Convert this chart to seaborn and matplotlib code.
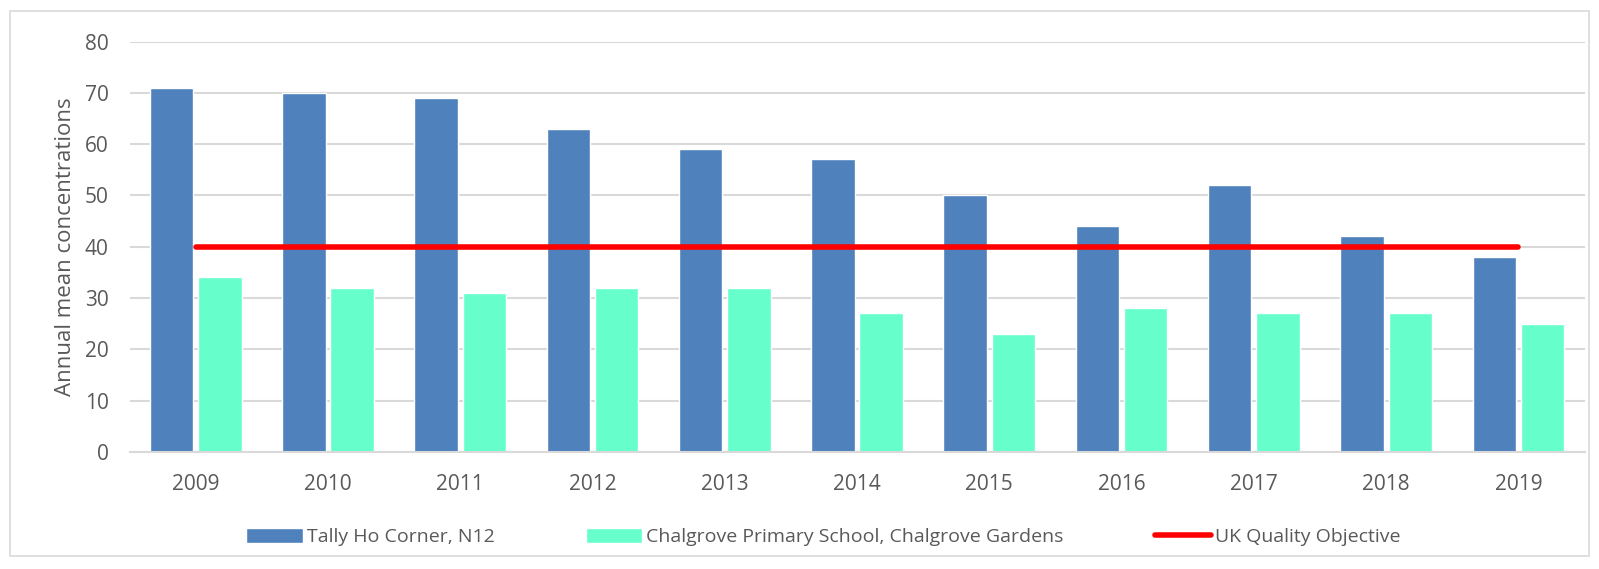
import numpy as np
import pandas as pd
import matplotlib
matplotlib.use("Agg")
import matplotlib.pyplot as plt
from matplotlib.patches import Patch, Rectangle
from matplotlib.lines import Line2D
import seaborn as sns

years = ["2009", "2010", "2011", "2012", "2013", "2014", "2015", "2016", "2017", "2018", "2019"]
tally_ho = [71, 70, 69, 63, 59, 57, 50, 44, 52, 42, 38]
chalgrove = [34, 32, 31, 32, 32, 27, 23, 28, 27, 27, 25]
objective = [40] * len(years)

site_names = ["Tally Ho Corner, N12", "Chalgrove Primary School, Chalgrove Gardens"]
objective_name = "UK Quality Objective"
colors = ["#4f81bd", "#66ffcc"]
line_color = "#ff0000"
text_color = "#595959"

df = pd.DataFrame({
    "year": years * 2,
    "value": tally_ho + chalgrove,
    "site": [site_names[0]] * len(years) + [site_names[1]] * len(years),
})

sns.set_theme(style="white")
plt.rcParams["font.family"] = ["Open Sans", "DejaVu Sans"]

fig = plt.figure(figsize=(15.99, 5.69), dpi=100)
ax = fig.add_axes([0.081, 0.206, 0.910, 0.721])

sns.barplot(data=df, x="year", y="value", hue="site", palette=colors,
            order=years, hue_order=site_names, width=0.73, gap=0.1,
            saturation=1, errorbar=None, legend=False, ax=ax)

sns.lineplot(x=np.arange(len(years)), y=objective, color=line_color,
             linewidth=4, solid_capstyle="round", ax=ax, legend=False)

ax.set_ylim(0, 80)
ax.set_yticks(range(0, 81, 10))
ax.set_xlim(-0.5, len(years) - 0.5)
ax.yaxis.grid(True, color="#d9d9d9", linewidth=1.5)
ax.set_axisbelow(True)
for side in ["top", "right", "left"]:
    ax.spines[side].set_visible(False)
ax.spines["bottom"].set_color("#d9d9d9")
ax.spines["bottom"].set_linewidth(1.5)
ax.tick_params(axis="both", length=0, labelsize=15, colors=text_color)
ax.tick_params(axis="y", pad=15)
ax.tick_params(axis="x", pad=16)
ax.set_xlabel("")
ax.set_ylabel("Annual mean concentrations", fontsize=16, color=text_color, labelpad=6)

handles = [
    Patch(facecolor=colors[0], label=site_names[0]),
    Patch(facecolor=colors[1], label=site_names[1]),
    Line2D([0], [0], color=line_color, linewidth=4, solid_capstyle="round", label=objective_name),
]
fig.legend(handles=handles, loc="center", bbox_to_anchor=(0.515, 0.056), ncol=3,
           frameon=False, fontsize=14, labelcolor=text_color, handlelength=2.9,
           handleheight=0.8, handletextpad=0.2, columnspacing=4.7)

fig.patches.append(Rectangle((0.006, 0.022), 0.988, 0.958, transform=fig.transFigure,
                             fill=False, edgecolor="#d9d9d9", linewidth=1.2))

fig.savefig("out.png", dpi=100, facecolor="white")
